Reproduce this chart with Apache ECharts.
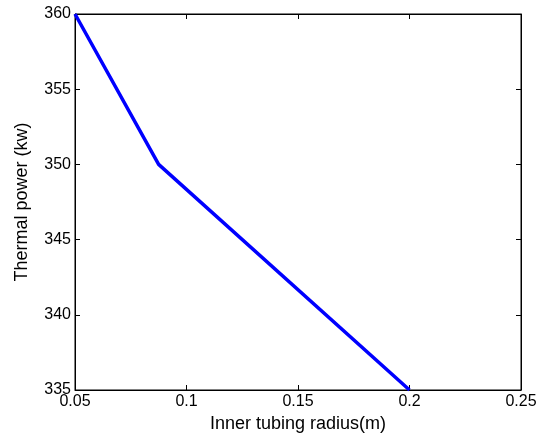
<!DOCTYPE html>
<html><head><meta charset="utf-8">
<script src="https://cdn.jsdelivr.net/npm/echarts@6/dist/echarts.min.js"></script>
<style>html,body{margin:0;padding:0;background:#fff}#c{width:543px;height:440px}</style>
</head><body><div id="c"></div>
<script>
const radius = [0.05, 0.0875, 0.2];
const power = [360, 350, 335];
const xName = 'Inner tubing radius(m)';
const yName = 'Thermal power (kw)';
const font = 'Liberation Sans, Arial, sans-serif';
const chart = echarts.init(document.getElementById('c'));
const axisCommon = {
  axisLine: {show: true, onZero: false, lineStyle: {color: '#000', width: 1}},
  axisTick: {show: true, inside: true, length: 5, lineStyle: {color: '#000'}},
  splitLine: {show: false},
  axisLabel: {color: '#000', fontFamily: font, fontSize: 16}
};
chart.setOption({
  animation: false,
  backgroundColor: '#fff',
  grid: {left: 75, right: 22, top: 14, bottom: 50, show: true, borderColor: '#000', borderWidth: 1},
  xAxis: [Object.assign({}, axisCommon, {
    type: 'value', min: 0.05, max: 0.25, interval: 0.05,
    name: xName, nameLocation: 'middle', nameGap: 20,
    nameTextStyle: {color: '#000', fontFamily: font, fontSize: 18},
    axisLabel: Object.assign({}, axisCommon.axisLabel, {margin: 4, formatter: v => +v.toFixed(2) + ''})
  }), Object.assign({}, axisCommon, {
    type: 'value', min: 0.05, max: 0.25, interval: 0.05, position: 'top',
    axisLabel: {show: false}
  })],
  yAxis: [Object.assign({}, axisCommon, {
    type: 'value', min: 335, max: 360, interval: 5,
    name: yName, nameLocation: 'middle', nameGap: 44,
    nameTextStyle: {color: '#000', fontFamily: font, fontSize: 18},
    axisLabel: Object.assign({}, axisCommon.axisLabel, {margin: 4})
  }), Object.assign({}, axisCommon, {
    type: 'value', min: 335, max: 360, interval: 5, position: 'right',
    axisLabel: {show: false}
  })],
  series: [{
    type: 'line', xAxisIndex: 0, yAxisIndex: 0,
    data: radius.map((r, i) => [r, power[i]]),
    showSymbol: false, symbol: 'none',
    lineStyle: {color: '#0000ff', width: 3.5},
    clip: false
  }]
});
</script></body></html>
